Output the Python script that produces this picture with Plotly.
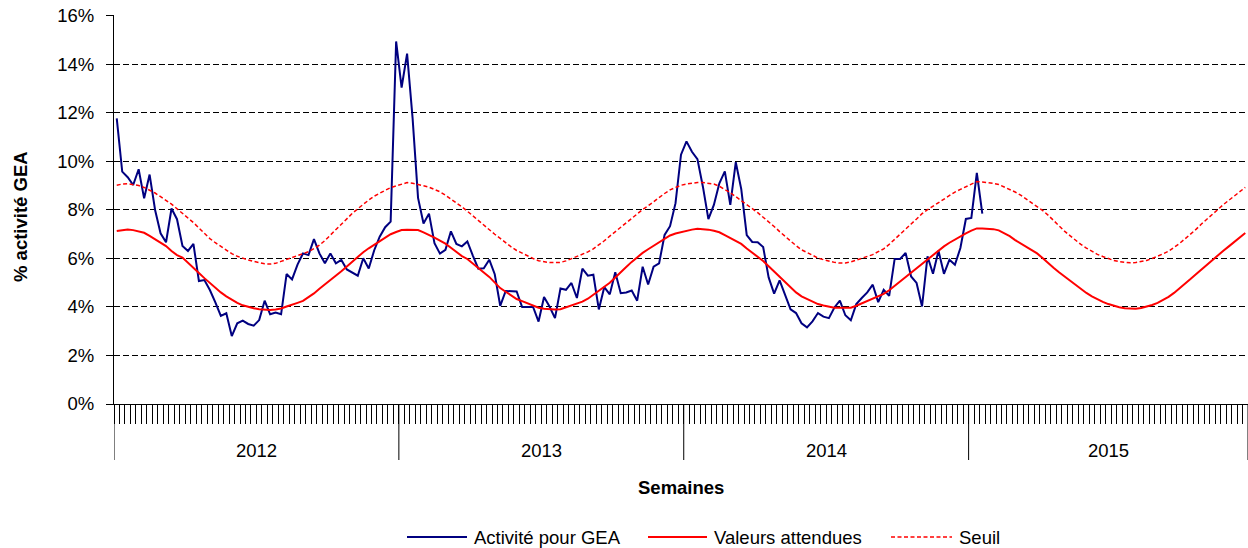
import plotly.graph_objects as go

# ---------------- data ----------------
years = ["2012", "2013", "2014", "2015"]
weeks_per_year = [52, 52, 52, 51]

y_ticks = [0, 2, 4, 6, 8, 10, 12, 14, 16]
y_tick_labels = ["0%", "2%", "4%", "6%", "8%", "10%", "12%", "14%", "16%"]

series_names = ["Activité pour GEA", "Valeurs attendues", "Seuil"]

activite = [
    11.78, 9.58, 9.35, 9.03, 9.68, 8.48, 9.46, 8.00, 7.04, 6.67,
    8.06, 7.62, 6.52, 6.31, 6.60, 5.07, 5.11, 4.70, 4.19, 3.63,
    3.74, 2.80, 3.33, 3.44, 3.30, 3.23, 3.46, 4.26, 3.70, 3.77,
    3.70, 5.36, 5.14, 5.75, 6.21, 6.14, 6.80, 6.21, 5.80, 6.21,
    5.80, 5.94, 5.55, 5.43, 5.29, 6.01, 5.59, 6.34, 6.90, 7.29,
    7.52, 14.95, 13.05, 14.45, 11.80, 8.50, 7.44, 7.85, 6.63, 6.20,
    6.36, 7.12, 6.60, 6.50, 6.70, 6.12, 5.58, 5.60, 5.95, 5.35,
    4.05, 4.66, 4.64, 4.64, 4.00, 4.00, 4.00, 3.40, 4.41, 4.02,
    3.54, 4.76, 4.71, 4.99, 4.37, 5.58, 5.29, 5.33, 3.90, 4.82,
    4.52, 5.43, 4.57, 4.60, 4.68, 4.26, 5.66, 4.93, 5.66, 5.80,
    6.97, 7.33, 8.28, 10.28, 10.83, 10.40, 10.10, 8.96, 7.62, 8.21,
    9.10, 9.59, 8.21, 9.97, 8.86, 6.96, 6.68, 6.67, 6.47, 5.22,
    4.55, 5.10, 4.46, 3.90, 3.75, 3.33, 3.16, 3.41, 3.75, 3.60,
    3.54, 3.98, 4.26, 3.66, 3.45, 4.12, 4.37, 4.60, 4.92, 4.20,
    4.71, 4.46, 5.98, 5.98, 6.23, 5.26, 4.99, 4.02, 6.09, 5.37,
    6.32, 5.37, 5.95, 5.74, 6.43, 7.63, 7.67, 9.53, 7.85,
]

valeurs_attendues = [
    7.13, 7.18, 7.20, 7.17, 7.12, 7.06, 6.93, 6.79, 6.65, 6.51,
    6.31, 6.14, 6.04, 5.84, 5.62, 5.40, 5.19, 4.99, 4.79, 4.60,
    4.44, 4.29, 4.17, 4.07, 4.00, 3.95, 3.91, 3.89, 3.88, 3.90,
    3.94, 4.02, 4.11, 4.17, 4.25, 4.40, 4.56, 4.75, 4.93, 5.09,
    5.28, 5.47, 5.67, 5.87, 6.07, 6.26, 6.42, 6.57, 6.72, 6.86,
    7.00, 7.09, 7.17, 7.18, 7.18, 7.17, 7.08, 6.98, 6.86, 6.74,
    6.61, 6.44, 6.26, 6.10, 5.98, 5.78, 5.59, 5.42, 5.24, 4.99,
    4.78, 4.63, 4.48, 4.33, 4.24, 4.16, 4.07, 3.97, 3.93, 3.90,
    3.90, 3.91, 3.98, 4.05, 4.12, 4.22, 4.34, 4.51, 4.69, 4.84,
    5.00, 5.22, 5.45, 5.65, 5.86, 6.06, 6.23, 6.38, 6.53, 6.67,
    6.83, 6.95, 7.03, 7.09, 7.15, 7.19, 7.23, 7.22, 7.19, 7.14,
    7.08, 6.96, 6.83, 6.72, 6.60, 6.41, 6.24, 6.09, 5.90, 5.68,
    5.46, 5.23, 5.00, 4.78, 4.60, 4.44, 4.33, 4.20, 4.12, 4.06,
    4.00, 3.97, 3.97, 3.97, 3.97, 4.05, 4.15, 4.24, 4.34, 4.43,
    4.54, 4.69, 4.87, 5.05, 5.23, 5.43, 5.61, 5.80, 5.98, 6.16,
    6.34, 6.50, 6.65, 6.79, 6.92, 7.04, 7.15, 7.24, 7.24, 7.24,
    7.21, 7.16, 7.04, 6.92, 6.76, 6.62, 6.49, 6.36, 6.21, 6.02,
    5.80, 5.62, 5.43, 5.26, 5.08, 4.91, 4.74, 4.58, 4.44, 4.32,
    4.21, 4.12, 4.04, 3.99, 3.95, 3.93, 3.93, 3.96, 4.01, 4.08,
    4.17, 4.29, 4.42, 4.58, 4.76, 4.95, 5.15, 5.35, 5.55, 5.75,
    5.95, 6.14, 6.32, 6.50, 6.68, 6.87, 7.05,
]

seuil = [
    9.02, 9.07, 9.08, 9.05, 9.01, 8.93, 8.83, 8.70, 8.55, 8.40,
    8.24, 8.05, 7.87, 7.68, 7.48, 7.26, 7.04, 6.82, 6.65, 6.49,
    6.33, 6.20, 6.09, 6.00, 5.94, 5.88, 5.82, 5.78, 5.77, 5.80,
    5.88, 5.96, 6.02, 6.10, 6.17, 6.28, 6.41, 6.55, 6.74, 6.97,
    7.19, 7.42, 7.64, 7.86, 8.05, 8.24, 8.41, 8.57, 8.70, 8.81,
    8.92, 9.00, 9.06, 9.13, 9.10, 9.06, 9.00, 8.94, 8.85, 8.75,
    8.61, 8.46, 8.31, 8.13, 7.95, 7.76, 7.57, 7.36, 7.16, 7.00,
    6.83, 6.64, 6.48, 6.33, 6.21, 6.10, 6.00, 5.91, 5.87, 5.83,
    5.83, 5.84, 5.90, 5.99, 6.10, 6.19, 6.27, 6.40, 6.55, 6.73,
    6.92, 7.10, 7.29, 7.48, 7.67, 7.86, 8.02, 8.17, 8.35, 8.53,
    8.68, 8.83, 8.93, 9.02, 9.07, 9.11, 9.13, 9.13, 9.11, 9.07,
    8.98, 8.85, 8.71, 8.55, 8.39, 8.24, 8.08, 7.89, 7.70, 7.52,
    7.32, 7.11, 6.91, 6.70, 6.53, 6.36, 6.24, 6.12, 6.02, 5.95,
    5.89, 5.84, 5.81, 5.81, 5.86, 5.93, 6.01, 6.08, 6.16, 6.28,
    6.40, 6.58, 6.78, 6.98, 7.20, 7.42, 7.63, 7.85, 8.01, 8.16,
    8.31, 8.45, 8.60, 8.74, 8.85, 8.96, 9.07, 9.17, 9.15, 9.13,
    9.10, 9.05, 8.95, 8.85, 8.74, 8.61, 8.45, 8.31, 8.16, 7.98,
    7.79, 7.56, 7.34, 7.13, 6.94, 6.75, 6.58, 6.43, 6.29, 6.17,
    6.08, 5.99, 5.92, 5.87, 5.84, 5.82, 5.83, 5.86, 5.92, 6.00,
    6.08, 6.19, 6.30, 6.45, 6.62, 6.81, 7.00, 7.20, 7.42, 7.63,
    7.83, 8.03, 8.22, 8.40, 8.57, 8.75, 8.93,
]

# ---------------- figure ----------------
FONT = "Liberation Sans, Arial, sans-serif"
FS = 18.5
W, H = 1248, 548
ML, MR, MT, MB = 114, 0, 15, 144
plot_w = W - ML - MR
plot_h = H - MT - MB

n_weeks = sum(weeks_per_year)
weeks_all = list(range(n_weeks))

colors = ["#000080", "#FF0000", "#FF0000"]
widths = [2, 2, 1.5]
dashes = ["solid", "solid", "4px,2.5px"]
values = [activite, valeurs_attendues, seuil]

fig = go.Figure()
for name, vals, c, w, d in zip(series_names, values, colors, widths, dashes):
    fig.add_trace(go.Scatter(
        x=weeks_all[:len(vals)], y=vals, mode="lines", name=name,
        showlegend=False, line=dict(color=c, width=w, dash=d)))


def px_x(px):
    return (px - ML) / plot_w


def px_y(py):
    return (H - MB - py) / plot_h


shapes = []
annotations = []

# year separators and labels below the week ticks
start = -0.5
for yr, nw in zip(years, weeks_per_year):
    end = start + nw
    shapes.append(dict(type="line", xref="x", yref="paper", x0=start, x1=start,
                       y0=0, y1=px_y(460), line=dict(color="black", width=1)))
    annotations.append(dict(x=(start + end) / 2, xref="x", y=px_y(450), yref="paper",
                            text=yr, showarrow=False, xanchor="center", yanchor="middle",
                            font=dict(family=FONT, size=FS, color="black")))
    start = end
shapes.append(dict(type="line", xref="x", yref="paper", x0=start, x1=start,
                   y0=0, y1=px_y(460), line=dict(color="black", width=1)))

# axis titles
annotations.append(dict(x=0.5, xref="paper", y=px_y(488), yref="paper",
                        text="<b>Semaines</b>", showarrow=False,
                        xanchor="center", yanchor="middle",
                        font=dict(family=FONT, size=FS, color="black")))
annotations.append(dict(x=px_x(20), xref="paper", y=px_y(217), yref="paper",
                        text="<b>% activité GEA</b>", showarrow=False, textangle=-90,
                        xanchor="center", yanchor="middle",
                        font=dict(family=FONT, size=FS, color="black")))

# legend (line sample + label for each series)
legend_y = px_y(537)
legend_lines = [(407, 467), (648, 707), (891, 952)]
for name, c, w, d, (a, b) in zip(series_names, colors, widths, dashes, legend_lines):
    shapes.append(dict(type="line", xref="paper", yref="paper",
                       x0=px_x(a), x1=px_x(b), y0=legend_y, y1=legend_y,
                       line=dict(color=c, width=w, dash=d)))
    annotations.append(dict(x=px_x(b + 5), xref="paper", y=legend_y, yref="paper",
                            text=name, showarrow=False, xanchor="left", yanchor="middle",
                            font=dict(family=FONT, size=FS, color="black")))

fig.update_layout(
    width=W, height=H,
    margin=dict(l=ML, r=MR, t=MT, b=MB, autoexpand=False),
    paper_bgcolor="white", plot_bgcolor="white",
    font=dict(family=FONT, size=FS, color="black"),
    shapes=shapes, annotations=annotations,
    showlegend=False,
    hovermode=False,
)
fig.update_xaxes(
    range=[-0.5, n_weeks - 0.5], showgrid=False, zeroline=False,
    showline=True, linecolor="black", linewidth=1,
    ticks="outside", ticklen=19, tickwidth=1, tickcolor="black",
    tickmode="linear", tick0=-0.5, dtick=1, showticklabels=False,
)
fig.update_yaxes(
    range=[0, 16.04], tickvals=y_ticks, ticktext=y_tick_labels,
    showgrid=True, gridcolor="black", gridwidth=1.2, griddash="6px,3px",
    zeroline=False, showline=True, linecolor="black", linewidth=1,
    ticks="outside", ticklen=7, tickwidth=1, tickcolor="black",
    ticklabelstandoff=8,
    tickfont=dict(family=FONT, size=FS, color="black"),
)

fig.write_html("out.html", config={"displayModeBar": False},
               post_script="document.body.style.margin='0';")
